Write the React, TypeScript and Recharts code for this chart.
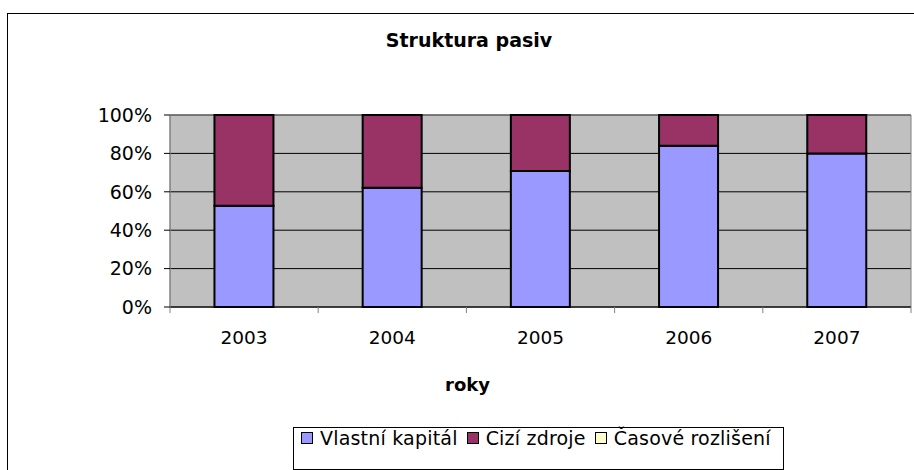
import { Bar, BarChart, CartesianGrid, Legend, ReferenceArea, XAxis, YAxis } from "recharts"

const years = ["2003", "2004", "2005", "2006", "2007"]
const vlastniKapital = [52.7, 62.1, 70.8, 84.0, 80.0]
const ciziZdroje = [47.3, 37.9, 29.2, 16.0, 20.0]
const casoveRozliseni = [0, 0, 0, 0, 0]
const seriesNames = ["Vlastní kapitál", "Cizí zdroje", "Časové rozlišení"]
const yTicks = [0, 20, 40, 60, 80, 100]
const bandEdges = [0, 1, 2, 3, 4, 5]

const FONT = "'DejaVu Sans', Arial, sans-serif"

const data = years.map((year, i) => ({
  year,
  slot: i + 0.5,
  vlastni: vlastniKapital[i],
  cizi: ciziZdroje[i],
  casove: casoveRozliseni[i],
}))

function LegendBox({ payload }: any) {
  const items = [...(payload || [])].sort(
    (a: any, b: any) => seriesNames.indexOf(a.value) - seriesNames.indexOf(b.value)
  )
  return (
    <div
      style={{
        boxSizing: "border-box",
        width: 491,
        height: 43,
        border: "1px solid #000",
        background: "#fff",
        display: "flex",
        alignItems: "flex-start",
        paddingLeft: 7,
        fontFamily: FONT,
        fontSize: 19,
        lineHeight: "20px",
        letterSpacing: "0.2px",
        color: "#000",
        whiteSpace: "nowrap",
      }}
    >
      {items.map((entry: any, i: number) => (
        <span key={entry.value} style={{ display: "flex", alignItems: "center", marginLeft: i === 0 ? 0 : 9 }}>
          <span
            style={{
              display: "inline-block",
              boxSizing: "border-box",
              width: 12,
              height: 12,
              border: "1px solid #000",
              background: entry.color,
              marginRight: 7,
            }}
          />
          {entry.value}
        </span>
      ))}
    </div>
  )
}

export default function App() {
  return (
    <div style={{ position: "absolute", left: 0, top: 0, width: 914, height: 470, overflow: "hidden", background: "#fff" }}>
      <div
        style={{
          position: "absolute",
          left: 7,
          top: 13,
          width: 1000,
          height: 600,
          border: "1px solid #000",
        }}
      />
      <div style={{ position: "absolute", left: 0, top: 0 }}>
        <BarChart
          width={914}
          height={470}
          data={data}
          margin={{ top: 115, right: 3, bottom: 0, left: 0 }}
          barCategoryGap="30%"
        >
          <text x={469} y={47} textAnchor="middle" fontFamily={FONT} fontSize={19} fontWeight="bold" fill="#000">
            Struktura pasiv
          </text>
          <CartesianGrid vertical={false} fill="#C0C0C0" fillOpacity={1} stroke="#000" />
          <ReferenceArea y1={0} y2={100} fill="none" fillOpacity={0} stroke="#808080" strokeOpacity={1} />
          {/* band-edge ticks like Excel: a numeric axis with no labels sitting right on the plot */}
          <XAxis
            xAxisId={0}
            type="number"
            dataKey="slot"
            domain={[0, 5]}
            ticks={bandEdges}
            interval={0}
            allowDataOverflow
            height={1}
            tick={() => <g />}
            tickSize={6}
            stroke="#000"
            tickLine={{ stroke: "#808080" }}
          />
          <XAxis
            xAxisId="years"
            dataKey="year"
            height={162}
            axisLine={false}
            tickLine={false}
            tickSize={6}
            tickMargin={17}
            tick={{ fill: "#000", fontSize: 18.5, fontFamily: FONT }}
            label={{
              value: "roky",
              position: "insideBottom",
              offset: 79,
              dx: -73,
              fill: "#000",
              fontSize: 18,
              fontWeight: "bold",
              fontFamily: FONT,
            }}
          />
          <YAxis
            width={170}
            domain={[0, 100]}
            ticks={yTicks}
            interval={0}
            tickFormatter={(v: number) => `${v}%`}
            tickSize={6}
            tickMargin={12}
            stroke="#808080"
            tickLine={{ stroke: "#000" }}
            tick={{ fill: "#000", fontSize: 19, fontFamily: FONT }}
          />
          <Legend
            verticalAlign="middle"
            align="center"
            layout="horizontal"
            wrapperStyle={{ left: 293, top: 427, width: 491, height: 43 }}
            content={<LegendBox />}
          />
          <Bar xAxisId="years" dataKey="vlastni" name={seriesNames[0]} stackId="a" fill="#9999FF" stroke="#000" strokeWidth={2} isAnimationActive={false} />
          <Bar xAxisId="years" dataKey="cizi" name={seriesNames[1]} stackId="a" fill="#993366" stroke="#000" strokeWidth={2} isAnimationActive={false} />
          <Bar xAxisId="years" dataKey="casove" name={seriesNames[2]} stackId="a" fill="#FFFFCC" stroke="#000" strokeWidth={2} isAnimationActive={false} />
        </BarChart>
      </div>
    </div>
  )
}
